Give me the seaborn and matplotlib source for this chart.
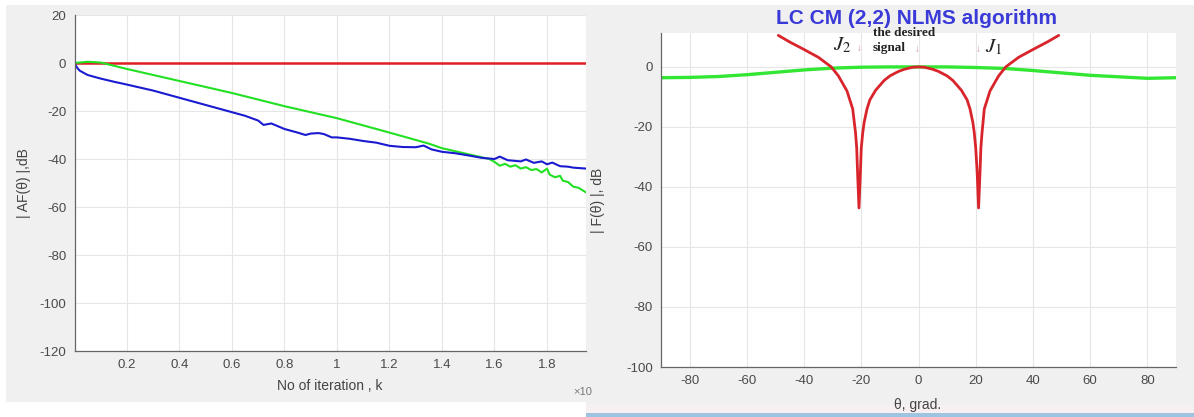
import numpy as np
import pandas as pd
import matplotlib
matplotlib.use("Agg")
import matplotlib.pyplot as plt
from matplotlib.patches import Rectangle
import seaborn as sns

# ---------------- data: left panel (k in units of 1e4 iterations) ----------------
k_red = [0.0, 2.0]
af_red = [0.0, 0.0]

k_blue = [0.0, 0.01, 0.02, 0.05, 0.1, 0.15, 0.2, 0.3, 0.4, 0.5, 0.6, 0.65, 0.7, 0.72,
          0.75, 0.8, 0.85, 0.88, 0.9, 0.93, 0.95, 0.98, 1.0, 1.05, 1.1, 1.15, 1.2,
          1.25, 1.3, 1.33, 1.36, 1.4, 1.45, 1.5, 1.55, 1.6, 1.62, 1.65, 1.7, 1.72,
          1.75, 1.78, 1.8, 1.82, 1.85, 1.88, 1.9, 1.95]
af_blue = [0.0, -2.0, -3.2, -5.0, -6.5, -7.8, -9.0, -11.5, -14.5, -17.5, -20.5, -22.0,
           -24.0, -25.8, -25.2, -27.5, -29.0, -30.0, -29.4, -29.2, -29.6, -31.0, -31.0,
           -31.6, -32.5, -33.2, -34.5, -35.0, -35.1, -34.4, -36.0, -37.0, -37.6, -38.5,
           -39.5, -40.0, -39.0, -40.5, -41.0, -40.2, -41.6, -41.0, -42.2, -41.5, -43.0,
           -43.2, -43.6, -44.0]

k_green = [0.0, 0.05, 0.1, 0.2, 0.4, 0.6, 0.8, 1.0, 1.2, 1.35, 1.4, 1.5, 1.58, 1.6,
           1.62, 1.64, 1.66, 1.68, 1.7, 1.72, 1.74, 1.76, 1.78, 1.8, 1.81, 1.83, 1.85,
           1.86, 1.88, 1.9, 1.92, 1.95]
af_green = [0.0, 0.5, 0.2, -2.5, -7.5, -12.5, -18.0, -23.0, -29.0, -33.6, -35.5, -38.0,
            -40.0, -41.2, -42.8, -42.0, -43.2, -42.6, -44.0, -43.4, -44.6, -44.2, -45.6,
            -44.0, -46.5, -47.6, -47.0, -49.0, -49.6, -51.5, -52.0, -54.0]

x_ticks_left = [0.2, 0.4, 0.6, 0.8, 1.0, 1.2, 1.4, 1.6, 1.8]
x_ticklabels_left = ["0.2", "0.4", "0.6", "0.8", "1", "1.2", "1.4", "1.6", "1.8"]
y_ticks_left = [20, 0, -20, -40, -60, -80, -100, -120]

# ---------------- data: right panel ----------------
theta_red = [-49, -45, -40, -35, -30.5, -28, -25, -23, -22, -21.6, -21.3, -20.8, -20.3,
             -20, -19.5, -19, -18, -17, -15, -12, -10, -7, -5, -2, 0,
             2, 5, 7, 10, 12, 15, 17, 18, 19, 19.5, 20, 20.5, 21, 21.5, 21.8, 22.2,
             23, 25, 28, 30.5, 35, 40, 45, 49]
f_red = [10.5, 8.3, 5.8, 3.2, 0.0, -3.0, -8.0, -14.0, -22.0, -27.0, -35.0, -47.0, -35.0,
         -27.0, -22.0, -18.5, -14.0, -11.0, -7.8, -4.5, -3.0, -1.5, -0.8, -0.1, 0.0,
         -0.1, -0.8, -1.5, -3.0, -4.5, -7.8, -11.0, -14.0, -18.5, -22.0, -27.0, -35.0,
         -47.0, -35.0, -27.0, -22.0, -14.0, -8.0, -3.0, 0.0, 3.2, 5.8, 8.3, 10.5]

theta_green = [-90, -80, -70, -60, -50, -40, -30, -20, -10, 0, 10, 20, 30, 40, 50, 60,
               70, 80, 90]
f_green = [-3.6, -3.5, -3.2, -2.6, -1.8, -1.0, -0.4, -0.1, 0.0, 0.0, 0.0, -0.2, -0.5,
           -1.2, -2.0, -2.8, -3.3, -3.8, -3.6]

x_ticks_right = [-80, -60, -40, -20, 0, 20, 40, 60, 80]
y_ticks_right = [0, -20, -40, -60, -80, -100]

# ---------------- figure ----------------
sns.set_theme(style="whitegrid")
plt.rcParams['font.family'] = ['Liberation Sans', 'DejaVu Sans']
plt.rcParams['mathtext.fontset'] = 'stix'
plt.rcParams['axes.unicode_minus'] = False

W, H = 1194, 417
fig = plt.figure(figsize=(W / 100, H / 100), dpi=100, facecolor="white")

def px_rect(x0, y0, x1, y1, color):
    fig.patches.append(Rectangle((x0 / W, 1 - y1 / H), (x1 - x0) / W, (y1 - y0) / H,
                                 transform=fig.transFigure, color=color, zorder=-10, lw=0))

px_rect(6, 5, 586, 402, "#f0f0f0")
px_rect(586, 5, 1194, 405, "#f0f0f0")
px_rect(586, 405, 1194, 413, "#f7f0f2")
px_rect(586, 413, 1194, 417, "#9fc4e2")

def ax_at(x0, y0, x1, y1):
    return fig.add_axes([x0 / W, 1 - y1 / H, (x1 - x0) / W, (y1 - y0) / H])

lab_kw = dict(fontsize=10, color="#444444")

def style(ax):
    ax.set_facecolor("white")
    for s in ["top", "right"]:
        ax.spines[s].set_visible(False)
    for s in ["left", "bottom"]:
        ax.spines[s].set_color("#666666")
        ax.spines[s].set_linewidth(0.9)
    ax.grid(True, color="#e6e6e6", linewidth=0.8)
    ax.tick_params(direction="in", length=4, width=0.8, colors="#666666",
                   labelcolor="#4a4a4a", labelsize=9.5, pad=6)

# ---- left panel ----
axL = ax_at(74.5, 15, 586, 351)
style(axL)
sns.lineplot(x=k_red, y=af_red, ax=axL, color="#e01f25", linewidth=1.8, estimator=None)
sns.lineplot(x=k_green, y=af_green, ax=axL, color="#22e022", linewidth=1.5, estimator=None)
sns.lineplot(x=k_blue, y=af_blue, ax=axL, color="#1a1ad0", linewidth=1.5, estimator=None)
axL.set_xlim(0, 1.9486)
axL.set_ylim(-120, 20)
axL.set_xticks(x_ticks_left)
axL.set_xticklabels(x_ticklabels_left)
axL.set_yticks(y_ticks_left)
axL.set_xlabel("")
axL.set_ylabel("")
fig.text(24 / W, 1 - 183 / H, "| AF(\u03b8) |,dB", rotation=90, ha="center", va="center", **lab_kw)
fig.text(330 / W, 1 - 386 / H, "No of iteration , k", ha="center", va="center", **lab_kw)
fig.text(583 / W, 1 - 392 / H, "\u00d710", ha="center", va="center", fontsize=8, color="#777777")

# ---- right panel ----
axR = ax_at(661, 33, 1176, 367)
style(axR)
sns.lineplot(x=theta_green, y=f_green, ax=axR, color="#33e633", linewidth=2.4, estimator=None)
sns.lineplot(x=theta_red, y=f_red, ax=axR, color="#d8242a", linewidth=2.0, estimator=None)
axR.set_xlim(-90, 90)
axR.set_ylim(-100, 11.3)
axR.set_xticks(x_ticks_right)
axR.set_yticks(y_ticks_right)
axR.set_xlabel("")
axR.set_ylabel("")
fig.text(598 / W, 1 - 200 / H, "| F(\u03b8) |, dB", rotation=90, ha="center", va="center", **lab_kw)
fig.text(918 / W, 1 - 405 / H, "\u03b8, grad.", ha="center", va="center", **lab_kw)
fig.text(916 / W, 1 - 19 / H, "LC CM (2,2) NLMS algorithm", ha="center", va="center",
         fontsize=15, fontweight="bold", color="#3a3ad8")

serif = ["Liberation Serif", "DejaVu Serif"]
fig.text(842 / W, 1 - 45 / H, "$J_2$", ha="center", va="center", fontsize=15,
         color="#222222", family=serif)
fig.text(859 / W, 1 - 48 / H, "\u2193", ha="center", va="center", fontsize=7, color="#d09090")
fig.text(873 / W, 1 - 33 / H, "the desired", ha="left", va="center", fontsize=9.5,
         fontweight="bold", color="#222222", family=serif)
fig.text(873 / W, 1 - 48 / H, "signal", ha="left", va="center", fontsize=9.5,
         fontweight="bold", color="#222222", family=serif)
fig.text(917 / W, 1 - 49 / H, "\u2193", ha="center", va="center", fontsize=7, color="#d09090")
fig.text(978 / W, 1 - 49 / H, "\u2193", ha="center", va="center", fontsize=7, color="#d09090")
fig.text(994 / W, 1 - 47 / H, "$J_1$", ha="center", va="center", fontsize=15,
         color="#222222", family=serif)

fig.savefig("out.png", dpi=100, facecolor="white")
